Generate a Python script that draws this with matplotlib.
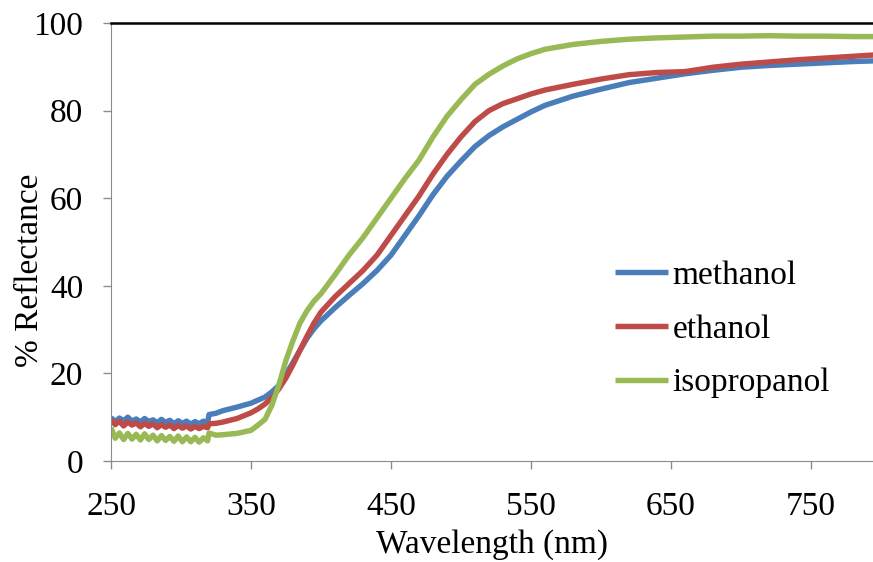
import matplotlib.pyplot as plt

# wavelength grid (nm): dense where the spectra are noisy, coarser above 320 nm
wavelength = (list(range(250, 320, 3))
              + [320, 325, 330, 340, 350, 355, 360, 365, 370, 375, 380, 385, 390, 395, 400]
              + list(range(410, 570, 10))
              + list(range(580, 820, 20)))

methanol = [9.9, 9.0, 9.8, 9.2, 10.0, 9.1, 9.6, 8.9, 9.7, 9.0, 9.4, 8.7,
            9.5, 8.8, 9.3, 8.5, 9.2, 8.6, 9.1, 8.4, 9.0, 8.5, 9.1, 8.7,
            10.6, 10.9, 11.5, 12.3, 13.2, 13.9, 14.6, 15.8, 17.3, 19.8, 22.5, 25.3, 28.0, 30.2, 32.0,
            35.0, 37.8, 40.5, 43.5, 47.0, 51.5, 56.0, 60.8, 65.0, 68.5, 71.8, 74.3, 76.3, 78.0, 79.7, 81.2,
            83.3, 84.9, 86.4, 87.4, 88.4, 89.2, 89.9, 90.3, 90.6, 90.9, 91.2, 91.4]

ethanol = [9.4, 8.3, 9.1, 8.0, 8.9, 8.2, 8.7, 7.8, 8.6, 7.9, 8.5, 7.6,
           8.3, 7.7, 8.2, 7.4, 8.1, 7.5, 8.0, 7.3, 7.9, 7.4, 7.9, 7.6,
           8.5, 8.6, 8.9, 9.7, 11.0, 11.9, 13.0, 14.5, 16.5, 19.0, 22.0, 25.3, 28.5, 31.5, 34.0,
           37.5, 40.5, 43.5, 47.0, 51.5, 56.0, 60.5, 65.5, 70.0, 74.0, 77.5, 80.0, 81.6, 82.7, 83.8, 84.7,
           86.0, 87.2, 88.2, 88.7, 88.9, 89.9, 90.6, 91.1, 91.6, 92.0, 92.4, 92.8]

isopropanol = [7.6, 5.2, 6.4, 4.9, 6.3, 5.0, 6.1, 4.8, 6.2, 4.9, 5.9, 4.6,
               5.8, 4.7, 5.6, 4.5, 5.7, 4.4, 5.5, 4.4, 5.4, 4.3, 5.3, 4.6,
               6.4, 5.9, 6.0, 6.3, 7.0, 8.2, 9.5, 12.8, 17.5, 23.0, 27.5, 31.5, 34.3, 36.5, 38.2,
               42.5, 47.0, 51.0, 55.5, 60.0, 64.5, 68.7, 74.0, 78.7, 82.5, 86.0, 88.3, 90.2, 91.8, 93.0, 94.0,
               95.1, 95.8, 96.3, 96.6, 96.8, 97.0, 97.0, 97.1, 97.0, 97.0, 96.9, 96.9]

series = [("methanol", methanol, "#4A7EBB"),
          ("ethanol", ethanol, "#BE4B48"),
          ("isopropanol", isopropanol, "#98B954")]

plt.rcParams["font.family"] = ["Liberation Serif", "DejaVu Serif"]

fig = plt.figure(figsize=(8.73, 5.62), dpi=100)
ax = fig.add_axes([111 / 873, 101 / 562, 762 / 873, 438 / 562])

for nome, valores, cor in series:
    ax.plot(wavelength, valores, color=cor, lw=3.9, label=nome,
            solid_joinstyle="round", solid_capstyle="butt")

ax.set_xlim(250, 250 + 762 / 1.4)
ax.set_ylim(0, 100)
ax.set_xticks([250, 350, 450, 550, 650, 750])
ax.set_yticks([0, 20, 40, 60, 80, 100])

ax.spines["right"].set_visible(False)
ax.spines["top"].set_color("black")
ax.spines["top"].set_linewidth(1.8)
ax.spines["left"].set_color("#8c8c8c")
ax.spines["bottom"].set_color("#8c8c8c")
ax.tick_params(direction="out", length=6, width=1, color="#8c8c8c",
               labelsize=24, labelcolor="black")
ax.tick_params(axis="y", pad=14)
ax.tick_params(axis="x", pad=16)

ax.set_xlabel("Wavelength (nm)", fontsize=24, labelpad=5)
ax.set_ylabel("% Reflectance", fontsize=24)
ax.yaxis.set_label_coords(-0.087, 0.436)

ax.legend(loc="upper left", bbox_to_anchor=(0.622, 0.527), frameon=False,
          fontsize=24, handlelength=1.6, handletextpad=0.12, labelspacing=0.7)

fig.savefig("out.png", dpi=100)
